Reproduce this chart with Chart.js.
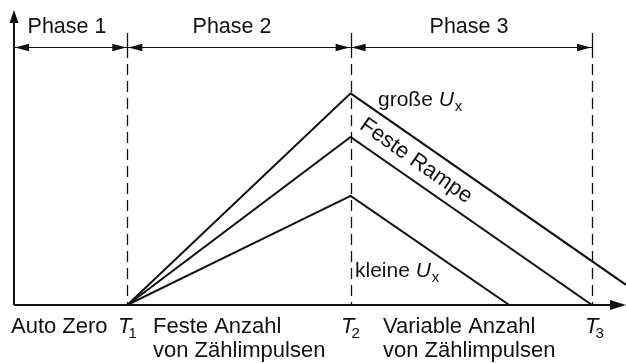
<!DOCTYPE html>
<html><head><meta charset="utf-8">
<script src="https://cdn.jsdelivr.net/npm/chart.js@4/dist/chart.umd.min.js"></script>
<style>html,body{margin:0;padding:0;background:#fff}#wrap{width:626px;height:363px}</style>
</head><body><div id="wrap"><canvas id="c" width="626" height="363"></canvas></div>
<script>
// time marks T1, T2, T3 (x units)
const timeMarks = [1, 2.97, 5.1];
const timeSubs = ['1', '2', '3'];
const phaseLabels = ['Phase 1', 'Phase 2', 'Phase 3'];
const phaseBounds = [0, 1, 2.97, 5.1];
const bottomLine1 = ['Auto Zero', 'Feste Anzahl', 'Variable Anzahl'];
const bottomLine2 = ['', 'von Zählimpulsen', 'von Zählimpulsen'];
// integrator output (arbitrary units)
const largeUx = [{x: 1, y: 0}, {x: 2.97, y: 1.26}, {x: 5.4, y: 0.12}];
const fixedRamp = [{x: 1, y: 0}, {x: 2.97, y: 1.0}, {x: 5.1, y: 0}];
const smallUx = [{x: 1, y: 0}, {x: 2.97, y: 0.65}, {x: 4.37, y: 0}];

const INK = '#111';
const FONT = '"Liberation Sans", Arial, Helvetica, sans-serif';

function arrowHead(ctx, tipX, tipY, dir, len, half) {
  ctx.beginPath();
  if (dir === 'left') { ctx.moveTo(tipX, tipY); ctx.lineTo(tipX + len, tipY - half); ctx.lineTo(tipX + len, tipY + half); }
  if (dir === 'right') { ctx.moveTo(tipX, tipY); ctx.lineTo(tipX - len, tipY - half); ctx.lineTo(tipX - len, tipY + half); }
  if (dir === 'up') { ctx.moveTo(tipX, tipY); ctx.lineTo(tipX - half, tipY + len); ctx.lineTo(tipX + half, tipY + len); }
  ctx.closePath(); ctx.fill();
}

function tLabel(ctx, x, y, sub) {
  ctx.textAlign = 'left';
  ctx.font = 'italic 22px ' + FONT;
  const w = ctx.measureText('T').width;
  ctx.fillText('T', x, y);
  ctx.font = '15px ' + FONT;
  ctx.fillText(sub, x + w - 3, y + 5);
}

function uxLabel(ctx, word, x, y) {
  ctx.textAlign = 'left';
  ctx.font = '21px ' + FONT;
  ctx.fillText(word, x, y);
  const w = ctx.measureText(word).width;
  ctx.font = 'italic 21px ' + FONT; ctx.fillText('U', x + w, y);
  const wu = ctx.measureText('U').width;
  ctx.font = '15px ' + FONT; ctx.fillText('x', x + w + wu + 1, y + 5);
}

const decor = {
  id: 'decor',
  afterDatasetsDraw(chart) {
    const ctx = chart.ctx, xs = chart.scales.x, ys = chart.scales.y, ca = chart.chartArea;
    const x0 = xs.getPixelForValue(0), y0 = ys.getPixelForValue(0);
    ctx.save();
    ctx.strokeStyle = INK; ctx.fillStyle = INK;
    // axes
    ctx.lineWidth = 2;
    ctx.beginPath(); ctx.moveTo(x0, y0); ctx.lineTo(x0, ca.top + 10); ctx.stroke();
    arrowHead(ctx, x0, ca.top, 'up', 13, 4.5);
    ctx.beginPath(); ctx.moveTo(x0, y0); ctx.lineTo(ca.right - 10, y0); ctx.stroke();
    arrowHead(ctx, ca.right, y0, 'right', 16, 5);
    // vertical marks
    const dimY = 47;
    timeMarks.forEach(t => {
      const x = Math.round(xs.getPixelForValue(t)) + 0.5;
      ctx.lineWidth = 1.3; ctx.setLineDash([]);
      ctx.beginPath(); ctx.moveTo(x, 33); ctx.lineTo(x, 58); ctx.stroke();
      ctx.setLineDash([11, 6]);
      ctx.beginPath(); ctx.moveTo(x, 64); ctx.lineTo(x, y0); ctx.stroke();
    });
    ctx.setLineDash([]);
    // dimension line
    ctx.lineWidth = 1.1;
    ctx.beginPath(); ctx.moveTo(x0, dimY + 0.5); ctx.lineTo(xs.getPixelForValue(phaseBounds[3]), dimY + 0.5); ctx.stroke();
    for (let i = 0; i < 3; i++) {
      const a = xs.getPixelForValue(phaseBounds[i]), b = xs.getPixelForValue(phaseBounds[i + 1]);
      arrowHead(ctx, a + 1, dimY + 0.5, 'left', 14, 3.8);
      arrowHead(ctx, b - 1, dimY + 0.5, 'right', 14, 3.8);
    }
    ctx.font = '21.5px ' + FONT; ctx.textAlign = 'center'; ctx.textBaseline = 'alphabetic';
    const phaseCx = [67, 232, 469];
    phaseLabels.forEach((p, i) => { ctx.fillText(p, phaseCx[i], 33); });
    // bottom labels
    ctx.font = '22px ' + FONT; ctx.textAlign = 'left';
    const bx = [11, 153, 383];
    bottomLine1.forEach((s, i) => ctx.fillText(s, bx[i], 333));
    bottomLine2.forEach((s, i) => ctx.fillText(s, bx[i], 357));
    const tx = [118, 341, 585];
    timeMarks.forEach((t, i) => tLabel(ctx, tx[i], 333, timeSubs[i]));
    // curve labels
    uxLabel(ctx, 'große ', 378, 106);
    uxLabel(ctx, 'kleine ', 355, 277);
    // rotated label
    ctx.save();
    ctx.translate(416, 161);
    ctx.rotate(Math.atan2(0.70, 1));
    ctx.font = '22px ' + FONT; ctx.textAlign = 'center'; ctx.textBaseline = 'middle';
    ctx.fillText('Feste Rampe', 0, 0);
    ctx.restore();
    ctx.restore();
  }
};

const ds = (d) => ({ data: d, borderColor: INK, borderWidth: 2, pointRadius: 0, tension: 0, fill: false });

new Chart(document.getElementById('c'), {
  type: 'line',
  data: { datasets: [ds(largeUx), ds(fixedRamp), ds(smallUx)] },
  options: {
    responsive: false, animation: false, devicePixelRatio: 1,
    layout: { padding: { left: 14, right: 0, top: 10, bottom: 58 } },
    plugins: { legend: { display: false }, tooltip: { enabled: false } },
    scales: {
      x: { type: 'linear', min: 0, max: 5.4, display: false },
      y: { min: 0, max: 1.756, display: false }
    }
  },
  plugins: [decor]
});
</script></body></html>
